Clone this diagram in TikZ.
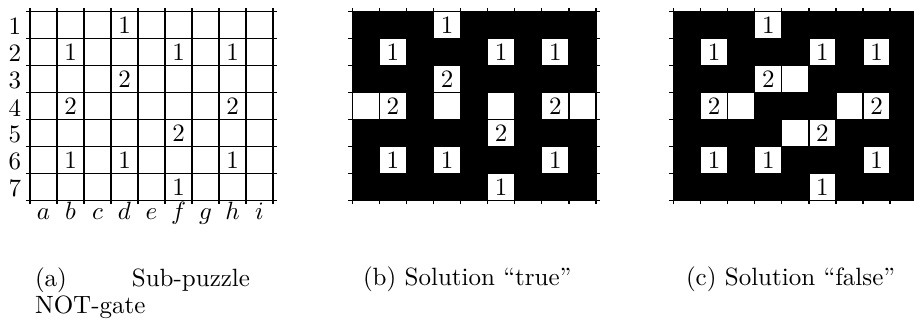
\documentclass[tikz,border=0pt]{standalone}
\def\cluelist{4/1/1,2/2/1,6/2/1,8/2/1,4/3/2,2/4/2,8/4/2,6/5/2,2/6/1,4/6/1,8/6/1,6/7/1}
\def\cluecells{4/1,2/2,6/2,8/2,4/3,2/4,8/4,6/5,2/6,4/6,8/6,6/7}
\begin{document}
\begin{tikzpicture}[x=0.4pt,y=-0.4pt,
  gline/.style={line width=0.6pt, black},
  sline/.style={line width=0.5pt, black},
  clue/.style={inner sep=0pt, font=\fontsize{10}{12}\selectfont},
  lab/.style={inner sep=0pt, font=\fontsize{10}{12}\selectfont},
  capt/.style={inner sep=0pt, font=\fontsize{10}{10.8}\selectfont}]
\useasboundingbox (0,0) rectangle (914,320);
\clip (0,0) rectangle (914,320);

% ---------- (a) sub-puzzle ----------
\begin{scope}[shift={(30,11.7)}]
\begin{scope}[x=10.8pt,y=-10.8pt]
  \foreach \i in {0,...,9} \draw[gline] (\i,-0.13) -- (\i,7.13);
  \foreach \j in {0,...,7} \draw[gline] (-0.15,\j) -- (9.15,\j);
  \foreach \c/\r/\v in \cluelist \node[clue] (a-\c-\r) at (\c-0.5,\r-0.5) {\v};
  \foreach \r in {1,...,7} \node[lab] (rowlab\r) at (-0.556,\r-0.45) {\r};
  \foreach \c/\l in {1/a,2/b,3/c,4/d,5/e,6/f,7/g,8/h,9/i}
    \node[lab,anchor=base] (collab\l) at (\c-0.5,7.71) {$\l$};
\end{scope}
\end{scope}

% ---------- (b) solution true ----------
\begin{scope}[shift={(352.3,11.7)}]
\begin{scope}[x=10.83pt,y=-10.8pt]
  \fill[black] (0,0) rectangle (9,7);
  \foreach \c/\r in \cluecells \fill[white] (\c-1,\r-1) rectangle (\c,\r);
  \foreach \c/\r in {1/4,4/4,6/4,9/4} \fill[white] (\c-1,\r-1) rectangle (\c,\r);
  \foreach \i in {0,...,9} \draw[sline] (\i,-0.13) -- (\i,7.13);
  \foreach \j in {0,...,7} \draw[sline] (-0.15,\j) -- (9.15,\j);
  \foreach \c/\r/\v in \cluelist \node[clue] (b-\c-\r) at (\c-0.5,\r-0.5) {\v};
\end{scope}
\end{scope}

% ---------- (c) solution false ----------
\begin{scope}[shift={(673.5,11.7)}]
\begin{scope}[x=10.83pt,y=-10.8pt]
  \fill[black] (0,0) rectangle (9,7);
  \foreach \c/\r in \cluecells \fill[white] (\c-1,\r-1) rectangle (\c,\r);
  \foreach \c/\r in {5/3,3/4,7/4,5/5} \fill[white] (\c-1,\r-1) rectangle (\c,\r);
  \foreach \i in {0,...,9} \draw[sline] (\i,-0.13) -- (\i,7.13);
  \foreach \j in {0,...,7} \draw[sline] (-0.15,\j) -- (9.15,\j);
  \foreach \c/\r/\v in \cluelist \node[clue] (c-\c-\r) at (\c-0.5,\r-0.5) {\v};
\end{scope}
\end{scope}

% ---------- captions ----------
\node[capt, anchor=north west, text width=86pt, align=left] (capa) at (34.5,267.5)
  {(a)\hskip 0pt plus 1fill Sub-puzzle\\NOT-gate};
\node[capt, anchor=base west] (capb) at (362.5,285) {(b) Solution ``true''};
\node[capt, anchor=base west] (capc) at (685.5,285) {(c) Solution ``false''};
\end{tikzpicture}
\end{document}
